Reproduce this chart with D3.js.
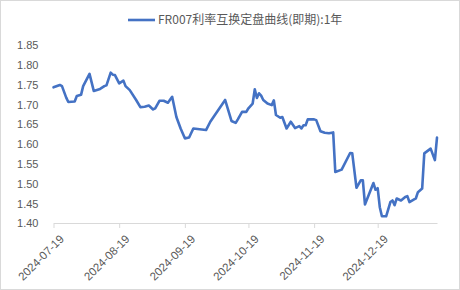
<!DOCTYPE html>
<html>
<head>
<meta charset="utf-8">
<script src="https://cdn.jsdelivr.net/npm/d3@7"></script>
<style>
  body { margin: 0; background: #fff; }
  text { font-family: "Liberation Sans", Arial, sans-serif; fill: #595959; }
  .legend-text { font-family: "Noto Sans CJK SC", "Liberation Sans", sans-serif; }
</style>
</head>
<body>
<div id="chart"></div>
<script>
const width = 460;
const height = 290;

const seriesName = "FR007利率互换定盘曲线(即期):1年";

const dates = [
  "2024-07-19", "2024-07-22", "2024-07-23", "2024-07-25", "2024-07-26", "2024-07-29", "2024-07-30",
  "2024-08-01", "2024-08-02", "2024-08-05", "2024-08-07", "2024-08-10", "2024-08-12", "2024-08-13",
  "2024-08-15", "2024-08-16", "2024-08-17", "2024-08-19", "2024-08-21", "2024-08-22", "2024-08-24",
  "2024-08-27", "2024-08-29", "2024-08-31", "2024-09-02", "2024-09-04", "2024-09-05", "2024-09-07",
  "2024-09-09", "2024-09-11", "2024-09-13", "2024-09-15", "2024-09-17", "2024-09-19", "2024-09-21",
  "2024-09-23", "2024-09-26", "2024-09-29", "2024-10-01", "2024-10-08", "2024-10-11", "2024-10-13",
  "2024-10-14", "2024-10-16", "2024-10-17", "2024-10-18", "2024-10-19", "2024-10-21", "2024-10-22",
  "2024-10-23", "2024-10-24", "2024-10-25", "2024-10-26", "2024-10-28", "2024-10-30", "2024-10-31",
  "2024-11-01", "2024-11-03", "2024-11-04", "2024-11-06", "2024-11-08", "2024-11-10", "2024-11-12",
  "2024-11-13", "2024-11-14", "2024-11-15", "2024-11-16", "2024-11-19", "2024-11-20", "2024-11-22",
  "2024-11-24", "2024-11-26", "2024-11-28", "2024-11-29", "2024-12-02", "2024-12-06", "2024-12-07",
  "2024-12-09", "2024-12-11", "2024-12-12", "2024-12-13", "2024-12-17", "2024-12-18", "2024-12-19",
  "2024-12-20", "2024-12-21", "2024-12-23", "2024-12-25", "2024-12-26", "2024-12-27", "2024-12-28",
  "2024-12-30", "2025-01-01", "2025-01-02", "2025-01-03", "2025-01-06", "2025-01-07", "2025-01-09",
  "2025-01-10", "2025-01-13", "2025-01-15", "2025-01-16"
];

const values = [
  1.743, 1.749, 1.746, 1.717, 1.706, 1.707, 1.721,
  1.724, 1.746, 1.777, 1.734, 1.739, 1.746, 1.748,
  1.780, 1.775, 1.774, 1.753, 1.760, 1.746, 1.736,
  1.711, 1.693, 1.694, 1.697, 1.687, 1.690, 1.709,
  1.709, 1.704, 1.719, 1.668, 1.639, 1.614, 1.616,
  1.639, 1.637, 1.635, 1.656, 1.711, 1.658, 1.653,
  1.662, 1.681, 1.681, 1.681, 1.690, 1.702, 1.738,
  1.716, 1.728, 1.722, 1.711, 1.702, 1.698, 1.710,
  1.673, 1.666, 1.668, 1.639, 1.656, 1.640, 1.645,
  1.639, 1.647, 1.647, 1.662, 1.662, 1.660, 1.632,
  1.628, 1.627, 1.629, 1.529, 1.535, 1.577, 1.576,
  1.489, 1.508, 1.508, 1.447, 1.501, 1.484, 1.488,
  1.440, 1.417, 1.417, 1.453, 1.457, 1.445, 1.462,
  1.457, 1.466, 1.468, 1.453, 1.462, 1.478, 1.487,
  1.576, 1.588, 1.559, 1.616
];

const yTicks = [1.40, 1.45, 1.50, 1.55, 1.60, 1.65, 1.70, 1.75, 1.80, 1.85];
const xTickLabels = ["2024-07-19", "2024-08-19", "2024-09-19", "2024-10-19", "2024-11-19", "2024-12-19"];
const xStart = "2024-07-19";
const xEnd = "2025-01-16";

const parse = d3.timeParse("%Y-%m-%d");
const data = dates.map((d, i) => ({ date: parse(d), value: values[i] }));

const margin = { left: 53.5, right: 23, top: 45, bottom: 67 };

let svg = d3.select("#chart").append("svg")
    .attr("width", width)
    .attr("height", height);

// chart area border
svg.append("rect")
    .attr("x", 0.5).attr("y", 0.5)
    .attr("width", width - 1).attr("height", height - 1)
    .attr("fill", "#fff")
    .attr("stroke", "#d9d9d9");

let xScale = d3.scaleTime()
    .domain([parse(xStart), parse(xEnd)])
    .range([margin.left, width - margin.right]);

let yScale = d3.scaleLinear()
    .domain([1.40, 1.85])
    .range([height - margin.bottom, margin.top]);

// y axis (labels only)
let yAxis = svg.append("g")
    .attr("transform", `translate(${margin.left - 15},0)`)
    .call(d3.axisLeft(yScale).tickValues(yTicks).tickFormat(d3.format(".2f")).tickSize(0).tickPadding(0))
    .call(g => g.select(".domain").remove());
yAxis.selectAll("text")
    .style("font-size", "11px")
    .attr("dy", "0.35em");

// x axis
let xAxis = svg.append("g")
    .attr("transform", `translate(0,${height - margin.bottom})`)
    .call(d3.axisBottom(xScale)
        .tickValues(xTickLabels.map(parse))
        .tickFormat(d3.timeFormat("%Y-%m-%d"))
        .tickSize(5)
        .tickSizeOuter(0));
xAxis.select(".domain").attr("stroke", "#d9d9d9");
xAxis.selectAll(".tick line").attr("stroke", "#d9d9d9");
xAxis.selectAll("text")
    .style("font-size", "11.5px")
    .attr("text-anchor", "end")
    .attr("dy", "0")
    .attr("transform", "translate(5,11) rotate(-45)");

// line
let line = d3.line()
    .x(d => xScale(d.date))
    .y(d => yScale(d.value));

svg.append("path")
    .datum(data)
    .attr("fill", "none")
    .attr("stroke", "#4472c4")
    .attr("stroke-width", 2.6)
    .attr("stroke-linejoin", "round")
    .attr("stroke-linecap", "round")
    .attr("d", line);

// legend
let legend = svg.append("g").attr("transform", "translate(128,20)");
legend.append("line")
    .attr("x1", 0).attr("x2", 27)
    .attr("y1", 0).attr("y2", 0)
    .attr("stroke", "#4472c4")
    .attr("stroke-width", 2.6);
legend.append("text")
    .attr("class", "legend-text")
    .attr("x", 30)
    .attr("y", 0)
    .attr("dy", "0.35em")
    .style("font-size", "12px")
    .text(seriesName);
</script>
</body>
</html>
